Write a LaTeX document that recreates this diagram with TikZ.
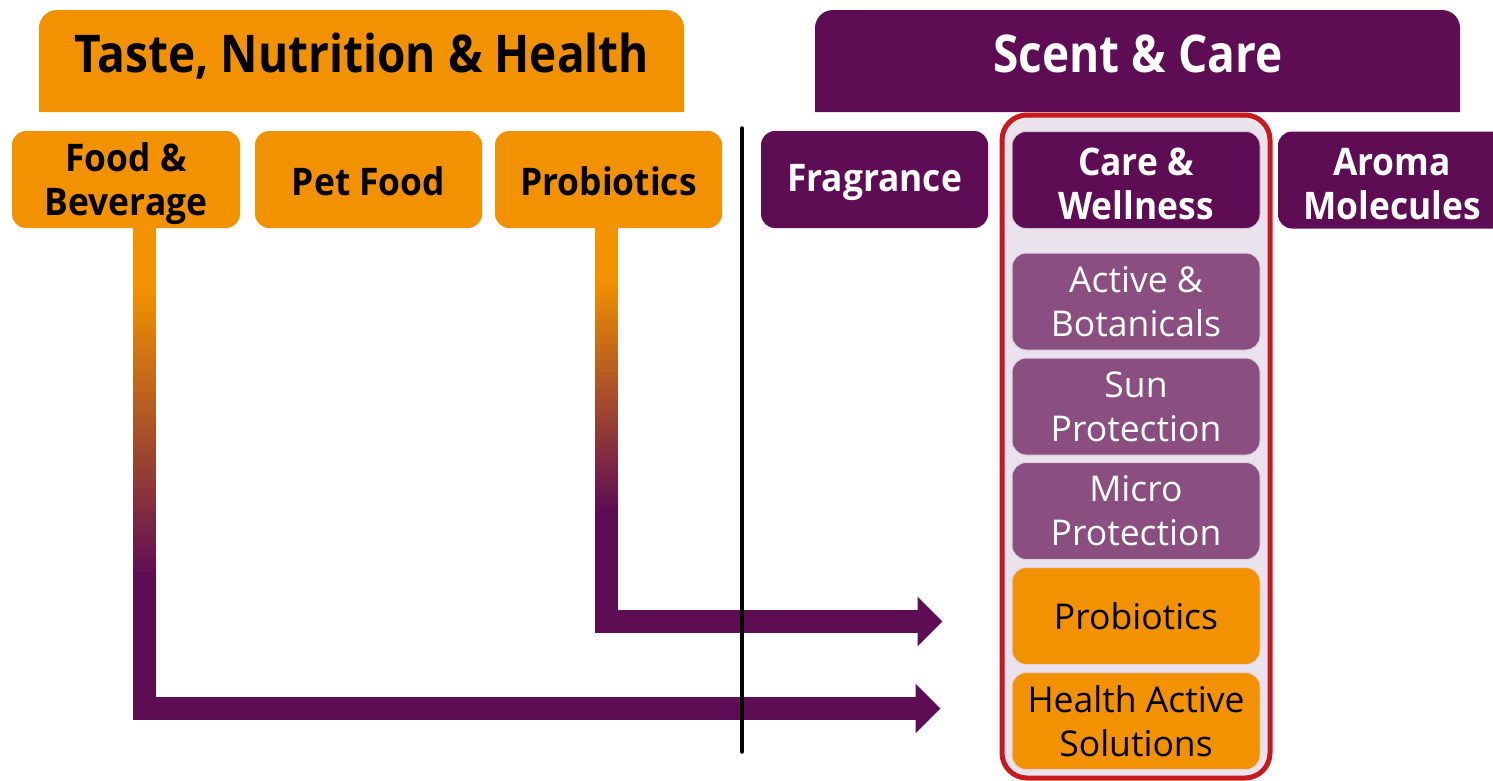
\documentclass[tikz,border=0pt]{standalone}
\usepackage{fontspec}
\setmainfont{Open Sans}
\newfontfamily\hdfam[FakeStretch=0.885]{Open Sans}
\newfontfamily\rowfam[FakeStretch=0.93]{Open Sans}
\usetikzlibrary{arrows.meta,calc}
\definecolor{corange}{RGB}{243,146,0}
\definecolor{cpurple}{RGB}{94,12,84}
\definecolor{cmid}{RGB}{138,79,128}
\definecolor{clav}{RGB}{234,226,236}
\definecolor{cred}{RGB}{200,26,30}
\tikzset{
  hdtext/.style={inner sep=0pt, anchor=base, font=\hdfam\bfseries\fontsize{52}{60}\selectfont},
  catbox/.style={rounded corners=14pt, minimum width=228pt, minimum height=97pt, inner sep=0pt},
  orbox/.style={catbox, fill=corange},
  pubox/.style={catbox, fill=cpurple},
  rowtext/.style={inner sep=0pt, align=center, font=\rowfam\bfseries\fontsize{38}{44}\selectfont},
  subbox/.style={rounded corners=14pt, minimum width=248pt, minimum height=97pt, inner sep=0pt, align=center, font=\fontsize{35.5}{44}\selectfont, draw=white!75!cmid, line width=1pt},
  subpu/.style={subbox, fill=cmid, text=white},
  subor/.style={subbox, fill=corange, text=black},
  flow/.style={line width=23pt, cpurple, -{Triangle[width=48pt,length=25pt]}},
  divider/.style={line width=3.5pt, line cap=round, black}
}
\begin{document}
\begin{tikzpicture}[x=1pt,y=-1pt]
\useasboundingbox (0,0) rectangle (1493,780);
\clip (0,0) rectangle (1493,780);
% headers
\fill[corange, rounded corners=18pt] (39,112) -- (39,10) -- (684,10) -- (684,112);
\fill[cpurple, rounded corners=18pt] (815,112) -- (815,10) -- (1460,10) -- (1460,112);
\node[hdtext, text=black] (tnh) at (362,72) {Taste, Nutrition \& Health};
\node[hdtext, text=white] (sc) at (1138,72) {Scent \& Care};
% row of categories
\node[orbox] (fb) at (126,179.5) {};
\node[orbox, minimum width=227pt] (pet) at (368.5,179.5) {};
\node[orbox, minimum width=227pt] (prob) at (608.5,179.5) {};
\node[pubox, minimum width=227pt] (frag) at (874.5,179.5) {};
% frame
\node[draw=cred, line width=5pt, fill=clav, rounded corners=25pt, minimum width=268pt, minimum height=663pt, inner sep=0pt] (frame) at (1136,446.5) {};
\node[pubox, minimum width=248pt, draw=white!75!cpurple, line width=1pt] (cw) at (1136,180) {};
\node[pubox] (aroma) at (1392,180) {};
\node[rowtext] (fbt) at ($(fb)+(0,4)$) {Food \&\\Beverage};
\node[rowtext] (pett) at ($(pet)+(0,2)$) {Pet Food};
\node[rowtext] (probt) at ($(prob)+(0,2)$) {Probiotics};
\node[rowtext, text=white] (fragt) at ($(frag)+(0,2.5)$) {Fragrance};
\node[rowtext, text=white] (cwt) at ($(cw)+(0,4)$) {Care \&\\Wellness};
\node[rowtext, text=white] (aromat) at ($(aroma)+(0,4)$) {Aroma\\Molecules};
% sub boxes
\node[subpu] (act) at (1136,301.5) {Active \&\\Botanicals};
\node[subpu] (sun) at (1136,406.5) {Sun\\Protection};
\node[subpu] (mic) at (1136,511) {Micro\\Protection};
\node[subor] (sprob) at (1136,616) {Probiotics};
\node[subor] (shas) at (1136,721) {Health Active\\Solutions};
% divider
\coordinate (dtop) at (742,128);
\coordinate (dbot) at (742,752);
% connectors
\coordinate (a1s) at ($(prob.south)+(-2.5,0)$);
\coordinate (a1t) at ($(sprob.west)+(0,5.5)$);
\coordinate (a2s) at ($(fb.south)+(18,0)$);
\coordinate (a2t) at ($(shas.west)+(0,-12.5)$);
% arrow 1: orange top, gradient, purple shaft with head
\fill[corange] ($(a1s)+(-11.5,0)$) rectangle ($(a1s)+(11.5,49.5)$);
\foreach \i in {0,...,59} {
  \pgfmathsetmacro\p{100*\i/59}
  \pgfmathsetmacro\ya{49+\i*3.9333}
  \pgfmathsetmacro\yb{49+(\i+1)*3.9333+0.8}
  \fill[cpurple!\p!corange] ($(a1s)+(-11.5,\ya)$) rectangle ($(a1s)+(11.5,\yb)$);
}
\draw[flow, shorten >=69pt] ($(a1s)+(0,285)$) |- (a1t);
% arrow 2
\fill[corange] ($(a2s)+(-11.5,0)$) rectangle ($(a2s)+(11.5,59.5)$);
\foreach \i in {0,...,69} {
  \pgfmathsetmacro\p{100*\i/69}
  \pgfmathsetmacro\ya{59+\i*4.1857}
  \pgfmathsetmacro\yb{59+(\i+1)*4.1857+0.8}
  \fill[cpurple!\p!corange] ($(a2s)+(-11.5,\ya)$) rectangle ($(a2s)+(11.5,\yb)$);
}
\draw[flow, shorten >=71pt] ($(a2s)+(0,352)$) |- (a2t);
\draw[divider] (dtop) -- (dbot);
\end{tikzpicture}
\end{document}
